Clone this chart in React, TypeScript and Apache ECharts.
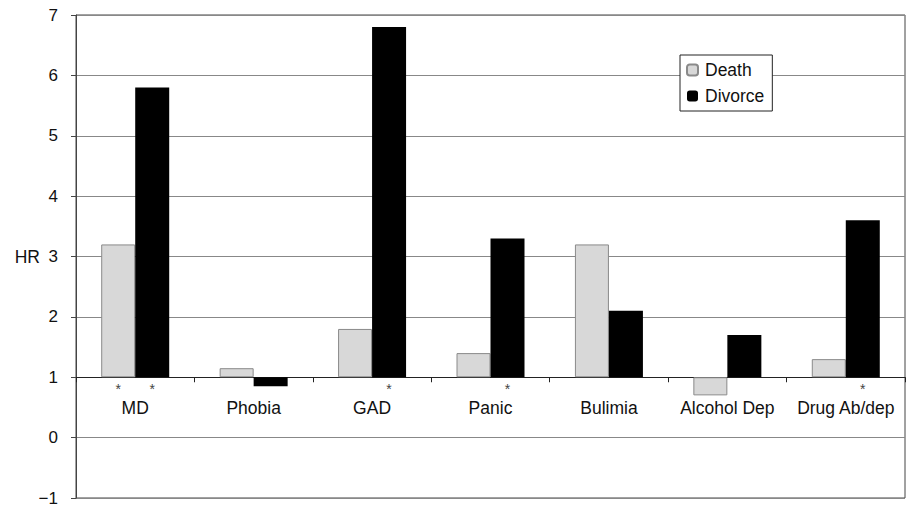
import React, { useEffect, useRef } from "react";
import * as echarts from "echarts";

// Hazard ratios by disorder; bars rise or fall from HR = 1.
const categories = ["MD", "Phobia", "GAD", "Panic", "Bulimia", "Alcohol Dep", "Drug Ab/dep"];
const deathHR = [3.2, 1.15, 1.8, 1.4, 3.2, 0.7, 1.3];
const divorceHR = [5.8, 0.85, 6.8, 3.3, 2.1, 1.7, 3.6];
// Significance markers drawn under the bars.
const deathSig = [true, false, false, false, false, false, false];
const divorceSig = [true, false, true, true, false, false, true];

const BASE = 1;
const Y_MIN = -1;
const Y_MAX = 7;
const FONT = "'Liberation Sans', Arial, sans-serif";
const FS = 17.5;

const W = 911;
const H = 506;
const GRID = { left: 76, right: 6, top: 15, bottom: 8 };
const plotH = H - GRID.top - GRID.bottom;
// Category axis sits on the HR = 1 line.
const xAxisOffset = -(plotH * (BASE - Y_MIN)) / (Y_MAX - Y_MIN);

const starLabel = (sig: boolean[]) => ({
  show: true,
  position: "bottom",
  distance: 5,
  fontFamily: FONT,
  fontSize: 14,
  color: "#444",
  formatter: (p: any) => (sig[p.dataIndex] ? "*" : ""),
});

export default function App() {
  const ref = useRef<HTMLDivElement>(null);

  useEffect(() => {
    if (!ref.current) return;
    const chart = echarts.init(ref.current, undefined, { renderer: "svg" });
    chart.setOption({
      animation: false,
      backgroundColor: "#fff",
      textStyle: { fontFamily: FONT },
      grid: {
        ...GRID,
        show: true,
        borderColor: "#444",
        borderWidth: 1,
        containLabel: false,
        outerBoundsMode: "none",
      },
      legend: {
        orient: "vertical",
        left: 680,
        top: 55,
        data: ["Death", "Divorce"],
        itemWidth: 11,
        itemHeight: 11,
        itemGap: 8,
        padding: [6, 8, 6, 6],
        backgroundColor: "#fff",
        borderColor: "#222",
        borderWidth: 1,
        borderRadius: 0,
        textStyle: { fontFamily: FONT, fontSize: FS, color: "#111", padding: [0, 0, 0, 2] },
      },
      xAxis: {
        type: "category",
        data: categories,
        position: "bottom",
        offset: xAxisOffset,
        axisLine: { onZero: false, lineStyle: { color: "#222", width: 1 } },
        axisTick: { show: true, length: 5, lineStyle: { color: "#222" } },
        axisLabel: {
          fontFamily: FONT,
          fontSize: FS,
          color: "#111",
          margin: 22,
          interval: 0,
          hideOverlap: false,
        },
        splitLine: { show: false },
      },
      yAxis: {
        type: "value",
        min: Y_MIN - BASE,
        max: Y_MAX - BASE,
        interval: 1,
        name: "HR",
        nameLocation: "middle",
        nameRotate: 0,
        nameGap: 36,
        nameMoveOverlap: false,
        nameTextStyle: { fontFamily: FONT, fontSize: FS, color: "#111", padding: [14, 0, 0, 0] },
        axisLine: { show: true, lineStyle: { color: "#444" } },
        axisTick: { show: true, length: 5, lineStyle: { color: "#444" } },
        axisLabel: {
          fontFamily: FONT,
          fontSize: 17,
          lineHeight: 14,
          color: "#111",
          margin: 18,
          formatter: (v: number) => {
            const n = Math.round(v + BASE);
            return n < 0 ? "\u2212" + Math.abs(n) : String(n);
          },
        },
        splitLine: { show: true, lineStyle: { color: "#888", width: 1 } },
      },
      series: [
        {
          name: "Death",
          type: "bar",
          data: deathHR.map((v) => +(v - BASE).toFixed(3)),
          barWidth: 34,
          barGap: "0%",
          itemStyle: { color: "#d8d8d8", borderColor: "#8a8a8a", borderWidth: 1 },
          label: starLabel(deathSig),
        },
        {
          name: "Divorce",
          type: "bar",
          data: divorceHR.map((v) => +(v - BASE).toFixed(3)),
          barWidth: 34,
          barGap: "0%",
          itemStyle: { color: "#000" },
          label: starLabel(divorceSig),
        },
      ],
    });
    return () => chart.dispose();
  }, []);

  return <div ref={ref} style={{ width: W, height: H, position: "absolute", left: 0, top: 0 }} />;
}
